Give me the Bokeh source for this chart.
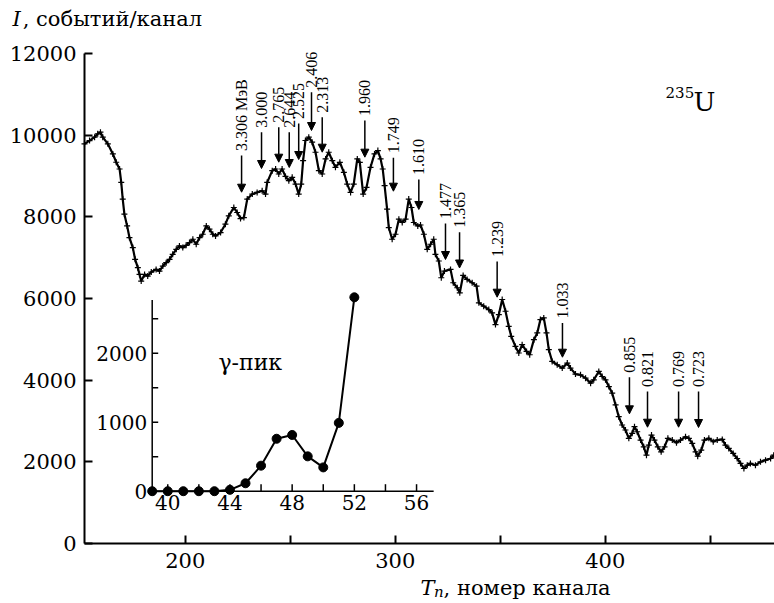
import numpy as np
from bokeh.plotting import figure
from bokeh.models import Range1d, FixedTicker, Arrow, NormalHead, ColumnDataSource
from bokeh.transform import dodge
from bokeh.core.properties import value
from bokeh.embed import file_html
from bokeh.resources import INLINE

# ---------------- data ----------------
channel = [
    152.0, 154.4, 156.8, 158.3, 159.6, 160.7, 163.1, 165.5, 167.1, 168.7,
    169.5, 170.2, 171.0, 172.3, 173.4, 175.0, 176.1, 177.4, 178.2, 179.0,
    180.6, 182.1, 183.8, 186.1, 187.7, 189.3, 190.9, 192.5, 194.0, 195.7,
    197.2, 198.8, 200.4, 202.0, 203.6, 205.2, 206.8, 208.3, 210.0, 211.5,
    213.1, 214.4, 216.8, 219.1, 220.7, 223.1, 224.7, 226.3, 227.9, 229.5,
    231.9, 234.2, 236.6, 238.2, 239.0, 241.4, 243.0, 244.5, 246.1, 247.7,
    249.3, 250.9, 252.5, 254.0, 255.2, 256.1, 257.2, 258.8, 260.4, 262.0,
    263.6, 265.2, 266.8, 268.3, 270.0, 271.5, 273.6, 275.5, 277.1, 278.7,
    280.2, 281.9, 283.1, 284.7, 286.3, 288.2, 290.1, 291.7, 293.0, 294.0,
    294.9, 296.1, 296.9, 298.5, 300.1, 301.7, 303.3, 304.9, 306.4, 307.7,
    308.8, 310.7, 312.0, 313.6, 315.2, 316.8, 318.3, 319.1, 320.7, 321.9,
    323.4, 326.3, 327.6, 329.5, 330.7, 332.3, 334.2, 336.6, 338.7, 339.8,
    342.1, 344.5, 346.1, 347.7, 349.3, 350.9, 352.5, 354.0, 355.2, 357.2,
    358.8, 360.4, 362.5, 364.0, 366.0, 367.6, 369.1, 370.7, 372.0, 373.1,
    374.7, 377.1, 379.5, 381.9, 383.4, 385.8, 388.2, 390.6, 393.0, 394.5,
    396.9, 398.5, 400.1, 401.7, 403.3, 404.9, 406.4, 408.0, 409.6, 411.2,
    412.8, 413.9, 415.2, 416.8, 418.3, 419.6, 420.7, 422.0, 423.4, 425.0,
    426.6, 428.2, 429.8, 431.9, 433.9, 435.8, 438.2, 439.8, 441.4, 443.0,
    444.0, 445.7, 447.2, 449.3, 451.4, 453.3, 455.7, 457.2, 458.8, 460.9,
    462.8, 464.4, 466.0, 467.6, 469.1, 471.5, 473.9, 476.3, 478.7, 480.2,
]
intensity = [
    9787, 9868, 9951, 10033, 10074, 9951, 9787, 9541, 9337, 9172,
    8845, 8434, 8065, 7778, 7492, 7246, 6959, 6755, 6590, 6426,
    6590, 6549, 6647, 6713, 6672, 6795, 6878, 6959, 7082, 7205,
    7287, 7246, 7303, 7369, 7451, 7328, 7492, 7574, 7778, 7697,
    7574, 7533, 7615, 7820, 8024, 8229, 8106, 7958, 7983, 8434,
    8557, 8598, 8639, 8557, 8845, 9131, 9172, 9049, 9172, 8990,
    8885, 8968, 8803, 8557, 8800, 9376, 9869, 9951, 9828, 9582,
    9131, 9049, 9418, 9582, 9376, 9213, 9336, 9091, 8803, 8598,
    8803, 9418, 9336, 8557, 8721, 9213, 9541, 9623, 9418, 9172,
    8762, 8188, 7738, 7451, 7574, 7943, 7861, 7943, 8434, 8229,
    7861, 7778, 7800, 7574, 7205, 7328, 7451, 7082, 6918, 6508,
    6672, 6713, 6386, 6263, 6140, 6566, 6467, 6386, 6303, 5894,
    5812, 5730, 5648, 5361, 5607, 5975, 5688, 5319, 5073, 4827,
    4665, 4869, 4704, 4623, 4992, 5156, 5484, 5525, 5156, 4746,
    4458, 4377, 4295, 4418, 4295, 4150, 4131, 4050, 3927, 4008,
    4213, 4090, 4008, 3844, 3681, 3393, 3106, 2902, 2779, 2575,
    2698, 2860, 2737, 2533, 2368, 2164, 2410, 2656, 2533, 2368,
    2245, 2368, 2575, 2533, 2467, 2533, 2614, 2575, 2451, 2245,
    2139, 2287, 2533, 2575, 2492, 2533, 2550, 2410, 2328, 2205,
    2082, 1960, 1837, 1918, 1960, 1918, 2000, 2041, 2082, 2164,
]

# gamma peak (inset)
gamma_channel = [39, 40, 41, 42, 43, 44, 45, 46, 47, 48, 49, 50, 51, 52]
gamma_counts = [0, 0, 0, 0, 0, 20, 115, 370, 760, 815, 505, 345, 990, 2810]

# energy markers (MeV)
line_energy = ["3.306 МэВ", "3.000", "2.765", "2.644", "2.525", "2.406", "2.313",
               "1.960", "1.749", "1.610", "1.477", "1.365", "1.239", "1.033",
               "0.855", "0.821", "0.769", "0.723"]
line_channel = [226.8, 236.3, 244.5, 249.5, 254.0, 260.1, 265.2,
                285.5, 299.1, 311.2, 323.9, 330.6, 348.5, 379.6,
                411.5, 420.1, 434.9, 444.4]
line_tip = [8603, 9184, 9338, 9208, 9404, 10114, 9583,
            9461, 8628, 8180, 6955, 6747, 6032, 4562,
            3176, 2848, 2848, 2841]
line_tail = [9502, 10073, 10195, 10073, 10286, 11052, 10440,
             10359, 9446, 8914, 7837, 7624, 6906, 5400,
             4073, 3722, 3722, 3722]

# ticks
x_ticks = [200, 250, 300, 350, 400, 450]
x_tick_labels = [200, 300, 400]
y_ticks = [0, 2000, 4000, 6000, 8000, 10000, 12000]
inset_x_ticks = [40, 42, 44, 46, 48, 50, 52, 54, 56]
inset_x_labels = [40, 44, 48, 52, 56]
inset_y_ticks = [500, 1000, 1500, 2000, 2500]
inset_y_labels = [0, 1000, 2000]

SERIF = "DejaVu Serif"

# ---------------- figure ----------------
# the frame covers the whole canvas; axes are pinned at x=152 and y=0
p = figure(width=774, height=603,
           x_range=Range1d(112.0, 480.57), y_range=Range1d(-1469.4, 13298),
           output_backend="svg", toolbar_location=None,
           min_border_left=0, min_border_right=0,
           min_border_top=0, min_border_bottom=0,
           outline_line_color=None, background_fill_color="white")
p.xgrid.visible = False
p.ygrid.visible = False

for ax in (p.xaxis[0], p.yaxis[0]):
    ax.axis_line_width = 2
    ax.axis_line_color = "black"
    ax.major_tick_line_width = 2
    ax.major_tick_line_color = "black"
    ax.major_tick_in = 8
    ax.major_tick_out = 0
    ax.minor_tick_line_color = None
    ax.major_label_text_font = SERIF
    ax.major_label_text_font_size = "21px"
    ax.major_label_text_color = "black"

p.xaxis.ticker = FixedTicker(ticks=x_ticks)
p.xaxis.major_label_overrides = {t: (str(t) if t in x_tick_labels else "") for t in x_ticks}
p.xaxis.major_label_standoff = 10
p.xaxis.fixed_location = 0
p.xaxis.bounds = (152, 480.57)
p.yaxis.ticker = FixedTicker(ticks=y_ticks)
p.yaxis.major_label_standoff = 8
p.yaxis.fixed_location = 152
p.yaxis.bounds = (0, 12000)

# main spectrum
p.line(channel, intensity, line_width=2.2, color="black")
p.scatter(channel, intensity, marker="cross", size=6, line_width=1.2, color="black")

# energy arrows + labels
src = ColumnDataSource(dict(x=line_channel, tip=line_tip, tail=line_tail, label=line_energy))
p.add_layout(Arrow(end=NormalHead(size=8, fill_color="black", line_color="black", line_width=1),
                   x_start="x", y_start="tail", x_end="x", y_end="tip",
                   source=src, line_width=1.5, line_color="black"))
p.text(x="x", y=dodge("tail", 110), text="label", source=src, angle=np.pi / 2,
       text_align="left", text_baseline="middle",
       text_font=value("Liberation Serif"), text_font_size="16px", text_color="black")

# 235U label
p.text(x=[428.7], y=[11050], text=["235"], text_font=value(SERIF), text_font_size="15px",
       text_baseline="alphabetic", text_align="left", text_color="black")
p.text(x=[442.0], y=[10802], text=["U"], text_font=value(SERIF), text_font_size="26px",
       text_baseline="alphabetic", text_align="left", text_color="black")

# axis titles
p.text(x=[117.7], y=[12857], text=["I"], text_font=value(SERIF), text_font_style="italic",
       text_font_size="21px", text_baseline="alphabetic", text_color="black")
p.text(x=[122.6], y=[12857], text=[", событий/канал"], text_font=value(SERIF),
       text_font_size="21px", text_baseline="alphabetic", text_color="black")
p.text(x=[312.0], y=[-1102], text=["T"], text_font=value(SERIF), text_font_style="italic",
       text_font_size="21px", text_baseline="alphabetic", text_color="black")
p.text(x=[318.4], y=[-1200], text=["n"], text_font=value(SERIF), text_font_style="italic",
       text_font_size="15px", text_baseline="alphabetic", text_color="black")
p.text(x=[323.0], y=[-1102], text=[", номер канала"], text_font=value(SERIF),
       text_font_size="21px", text_baseline="alphabetic", text_color="black")

# ---------------- inset (own scales) ----------------
p.extra_x_ranges = {"ix": Range1d(29.244, 79.019)}
p.extra_y_ranges = {"iy": Range1d(-1627.5, 7111.6)}
ins = dict(x_range_name="ix", y_range_name="iy")

p.segment(x0=[39, 39], y0=[0, 0], x1=[57.1, 39], y1=[0, 2770],
          line_width=1.5, color="black", **ins)
p.ray(x=inset_x_ticks, y=[0] * len(inset_x_ticks), length=7, angle=np.pi / 2,
      length_units="screen", line_width=1.5, color="black", **ins)
p.ray(x=[39] * len(inset_y_ticks), y=inset_y_ticks, length=6, angle=0,
      length_units="screen", line_width=1.5, color="black", **ins)
p.text(x=inset_x_labels, y=[0] * len(inset_x_labels), text=[str(v) for v in inset_x_labels],
       text_align="center", text_baseline="top", y_offset=4,
       text_font=value(SERIF), text_font_size="20px", text_color="black", **ins)
p.text(x=[39] * len(inset_y_labels), y=inset_y_labels, text=[str(v) for v in inset_y_labels],
       text_align="right", text_baseline="middle", x_offset=-5,
       text_font=value(SERIF), text_font_size="20px", text_color="black", **ins)

p.line(gamma_channel, gamma_counts, line_width=2, color="black", **ins)
p.scatter(gamma_channel, gamma_counts, marker="circle", size=9, color="black", **ins)
p.text(x=[43.26], y=[1865], text=["γ-пик"], text_font=value(SERIF), text_font_size="22px",
       text_baseline="middle", text_align="left", text_color="black", **ins)

open("out.html", "w").write(file_html(p, INLINE, title="235U spectrum"))
